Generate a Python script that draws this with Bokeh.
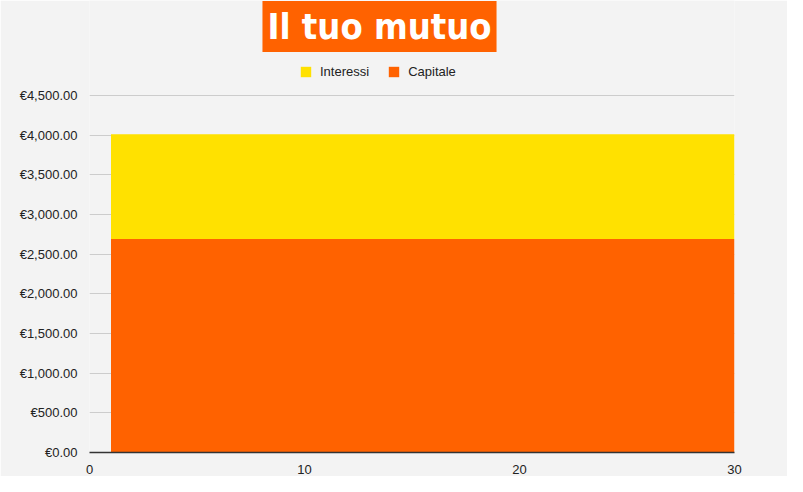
from bokeh.plotting import figure
from bokeh.models import ColumnDataSource, Label, Legend, LegendItem, FixedTicker, Range1d
from bokeh.embed import file_html
from bokeh.resources import INLINE

# ---- data ----
anni = [1, 2, 3, 4, 5, 6, 7, 8, 9, 10, 11, 12, 13, 14, 15,
        16, 17, 18, 19, 20, 21, 22, 23, 24, 25, 26, 27, 28, 29, 30]
capitale = [2690, 2690, 2690, 2690, 2690, 2690, 2690, 2690, 2690, 2690,
            2690, 2690, 2690, 2690, 2690, 2690, 2690, 2690, 2690, 2690,
            2690, 2690, 2690, 2690, 2690, 2690, 2690, 2690, 2690, 2690]
interessi = [1320, 1320, 1320, 1320, 1320, 1320, 1320, 1320, 1320, 1320,
             1320, 1320, 1320, 1320, 1320, 1320, 1320, 1320, 1320, 1320,
             1320, 1320, 1320, 1320, 1320, 1320, 1320, 1320, 1320, 1320]
series_names = ["Capitale", "Interessi"]
title_text = "Il tuo mutuo"
y_ticks = [0, 500, 1000, 1500, 2000, 2500, 3000, 3500, 4000, 4500]
y_tick_labels = ["€0.00", "€500.00", "€1,000.00", "€1,500.00", "€2,000.00",
                 "€2,500.00", "€3,000.00", "€3,500.00", "€4,000.00", "€4,500.00"]
x_ticks = [0, 10, 20, 30]

ORANGE = "#FF6200"
YELLOW = "#FFE100"
BG = "#F3F3F3"
FONT = "Liberation Sans"

# layout (pixels)
W, H = 787, 476
LEFT, RIGHT, BOTTOM = 89, 53, 24
FRAME_H = H - BOTTOM              # frame reaches the top so texts are not clipped
PLOT_H = 357                      # height of the 0..4500 region
y_top = y_ticks[-1] * FRAME_H / PLOT_H

source = ColumnDataSource(dict(x=anni, Capitale=capitale, Interessi=interessi))

p = figure(width=W, height=H, output_backend="svg", toolbar_location=None,
           x_range=Range1d(0, x_ticks[-1]), y_range=Range1d(0, y_top),
           min_border_left=LEFT, min_border_right=RIGHT, min_border_top=0,
           min_border_bottom=BOTTOM)
p.background_fill_color = BG
p.border_fill_color = BG
p.outline_line_color = None

renderers = p.varea_stack(series_names, x="x", source=source, color=[ORANGE, YELLOW])

# axes
p.yaxis.ticker = FixedTicker(ticks=y_ticks)
p.yaxis.major_label_overrides = {t: l for t, l in zip(y_ticks, y_tick_labels)}
p.xaxis.ticker = FixedTicker(ticks=x_ticks)
for ax in (p.xaxis, p.yaxis):
    ax.major_tick_line_color = None
    ax.minor_tick_line_color = None
    ax.major_label_text_font = FONT
    ax.major_label_text_font_size = "13px"
    ax.major_label_text_color = "#222222"
    ax.major_label_standoff = 6
p.yaxis.axis_line_color = None
p.xaxis.axis_line_color = "#333333"
p.xaxis.axis_line_width = 1.5

p.xgrid.grid_line_color = None
p.ygrid.ticker = FixedTicker(ticks=y_ticks)
p.ygrid.grid_line_color = "#CCCCCC"
p.ygrid.grid_line_width = 1

# legend
legend = Legend(items=[LegendItem(label="Interessi", renderers=[renderers[1]]),
                       LegendItem(label="Capitale", renderers=[renderers[0]])],
                orientation="horizontal", location=(210, FRAME_H - 79),
                padding=0, margin=0, spacing=18,
                glyph_width=13, glyph_height=13, label_height=13, label_standoff=8,
                label_text_font=FONT, label_text_font_size="13px", label_text_color="#222222",
                background_fill_alpha=0, border_line_color=None)
p.add_layout(legend, "center")

# title box
title = Label(x=290, y=FRAME_H - 26, x_units="screen", y_units="screen", text=title_text,
              text_align="center", text_baseline="middle",
              text_font="DejaVu Sans Condensed, Roboto, sans-serif", text_font_style="bold",
              text_font_size="36px", text_color="white",
              background_fill_color=ORANGE, padding=5)
p.add_layout(title)

open("out.html", "w").write(file_html(p, INLINE))
